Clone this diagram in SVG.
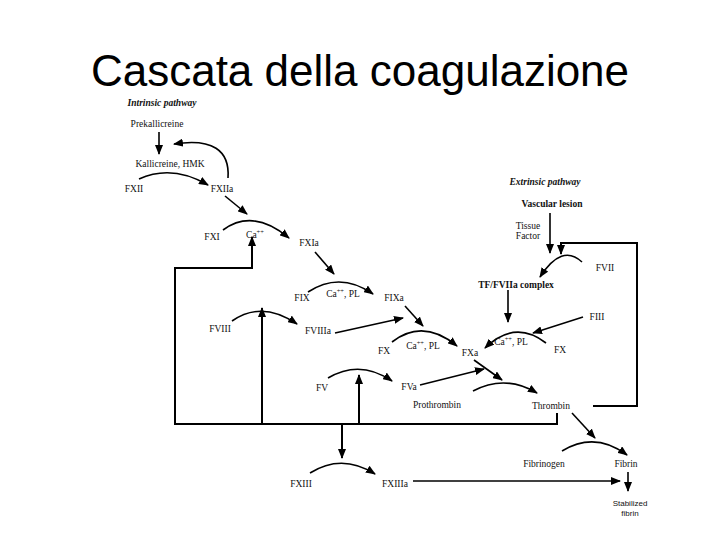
<svg xmlns="http://www.w3.org/2000/svg" width="720" height="540" viewBox="0 0 720 540">
<defs>
<marker id="ah" markerUnits="userSpaceOnUse" markerWidth="10" markerHeight="8" refX="9" refY="4" orient="auto">
<path d="M0,0 L10,4 L0,8 Z" fill="#000"/>
</marker>
<style>
.t{font-family:"Liberation Serif","Times New Roman",serif;font-size:9.5px;fill:#111;text-anchor:middle}
.b{font-weight:bold}
.i{font-style:italic;font-weight:bold}
.s{font-family:"Liberation Sans",Arial,sans-serif;font-size:8px}
.title{font-family:"Liberation Sans",Arial,sans-serif;font-size:44px;fill:#000;text-anchor:middle}
.c path{fill:none;stroke:#000;stroke-width:1.6}
.c .a{marker-end:url(#ah)}
.c .fb{stroke-width:2}
</style>
</defs>
<rect width="720" height="540" fill="#fff"/>
<text class="title" x="360" y="86">Cascata della coagulazione</text>
<g id="connectors" class="c">
<path class="a" d="M159 132 L159 154"/>
<path class="a" d="M228 178 C230 150 212 138 174 144"/>
<path class="a" d="M139 179 Q172 164 208 185"/>
<path class="a" d="M225 196 L247 214"/>
<path class="a" d="M223 230 Q253 208 289 238"/>
<path class="a fb" d="M557 413 L557 424 L175 424 L175 268 L252 268 L252 237"/>
<path class="a" d="M315 252 L334 274"/>
<path class="a" d="M308 292 Q340 271 373 294"/>
<path class="a" d="M232 321 Q262 300 297 324"/>
<path class="a fb" d="M262 424 L262 308"/>
<path class="a" d="M335 333 L403 318"/>
<path class="a" d="M405 306 L423 326"/>
<path class="a" d="M392 342 Q423 318 457 346"/>
<path class="a" d="M508 290 L508 322"/>
<path class="a" d="M583 317 L533 333"/>
<path class="a" d="M546 343 Q515 319 485 348"/>
<path class="a" d="M582 262 Q562 243 540 277"/>
<path class="a" d="M550 213 L550 253"/>
<path class="a fb" d="M593 406 L637 406 L637 243 L561 243 L561 254"/>
<path class="a" d="M474 360 L502 380"/>
<path class="a" d="M420 385 L484 369"/>
<path class="a" d="M473 391 Q505 374 537 393"/>
<path class="a" d="M572 413 L595 438"/>
<path class="a" d="M562 451 Q595 431 627 455"/>
<path class="a" d="M628 472 L628 491"/>
<path class="a" d="M413 481 L620 481"/>
<path class="a" d="M328 378 Q360 359 392 381"/>
<path class="a fb" d="M359 424 L359 375"/>
<path class="a fb" d="M342 424 L342 458"/>
<path class="a" d="M310 473 Q342 453 375 474"/>
</g>
<g id="intrinsic"><text class="t i" x="162" y="106">Intrinsic pathway</text></g>
<g id="prekallicreine"><text class="t" x="157" y="127">Prekallicreine</text></g>
<g id="kallicreine"><text class="t" x="170" y="167">Kallicreine, HMK</text></g>
<g id="fxii"><text class="t" x="134" y="192">FXII</text></g>
<g id="fxiia"><text class="t" x="222" y="192">FXIIa</text></g>
<g id="fxi"><text class="t" x="212" y="240">FXI</text></g>
<g id="ca1"><text class="t" x="255" y="238">Ca<tspan font-size="6.5" dy="-4">++</tspan></text></g>
<g id="fxia"><text class="t" x="309" y="246">FXIa</text></g>
<g id="fix"><text class="t" x="302" y="301">FIX</text></g>
<g id="ca2"><text class="t" x="343" y="297">Ca<tspan font-size="6.5" dy="-4">++</tspan><tspan dy="4">, PL</tspan></text></g>
<g id="fixa"><text class="t" x="394" y="301">FIXa</text></g>
<g id="fviii"><text class="t" x="220" y="332">FVIII</text></g>
<g id="fviiia"><text class="t" x="318" y="334">FVIIIa</text></g>
<g id="fx1"><text class="t" x="384" y="354">FX</text></g>
<g id="ca3"><text class="t" x="423" y="349">Ca<tspan font-size="6.5" dy="-4">++</tspan><tspan dy="4">, PL</tspan></text></g>
<g id="fxa"><text class="t" x="470" y="356">FXa</text></g>
<g id="ca4"><text class="t" x="511" y="345">Ca<tspan font-size="6.5" dy="-4">++</tspan><tspan dy="4">, PL</tspan></text></g>
<g id="fx2"><text class="t" x="560" y="353">FX</text></g>
<g id="fiii"><text class="t" x="597" y="320">FIII</text></g>
<g id="extrinsic"><text class="t i" x="545" y="185">Extrinsic pathway</text></g>
<g id="vascular"><text class="t b" x="552" y="207">Vascular lesion</text></g>
<g id="tissue"><text class="t" x="528" y="229">Tissue</text><text class="t" x="528" y="239">Factor</text></g>
<g id="fvii"><text class="t" x="605" y="271">FVII</text></g>
<g id="tfcomplex"><text class="t b" x="516" y="288">TF/FVIIa complex</text></g>
<g id="fv"><text class="t" x="322" y="391">FV</text></g>
<g id="fva"><text class="t" x="409" y="390">FVa</text></g>
<g id="prothrombin"><text class="t" x="437" y="408">Prothrombin</text></g>
<g id="thrombin"><text class="t" x="551" y="409">Thrombin</text></g>
<g id="fibrinogen"><text class="t" x="544" y="467">Fibrinogen</text></g>
<g id="fibrin"><text class="t" x="626" y="467">Fibrin</text></g>
<g id="stabilized"><text class="t s" x="630" y="506">Stabilized</text><text class="t s" x="630" y="516">fibrin</text></g>
<g id="fxiii"><text class="t" x="301" y="487">FXIII</text></g>
<g id="fxiiia"><text class="t" x="395" y="487">FXIIIa</text></g>
</svg>
